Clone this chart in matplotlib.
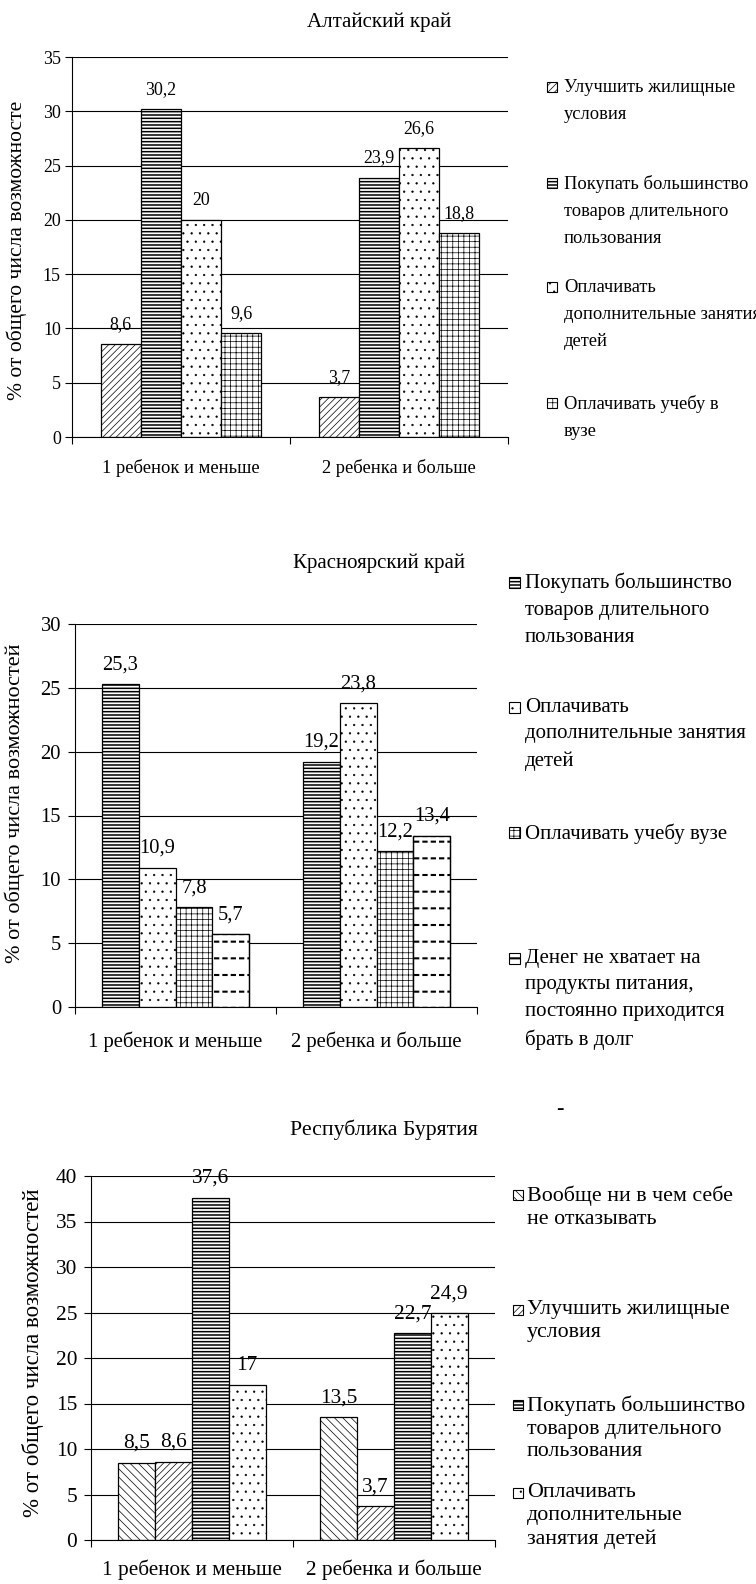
import numpy as np
import matplotlib
matplotlib.use('Agg')
import matplotlib.pyplot as plt
from matplotlib.patches import Rectangle

plt.rc('font', family='Liberation Serif')

W, H = 756, 1584

cats = ['1 ребенок и меньше', '2 ребенка и больше']

# Алтайский край
alt_house = [8.6, 3.7]
alt_goods = [30.2, 23.9]
alt_extra = [20, 26.6]
alt_univ = [9.6, 18.8]

# Красноярский край
kr_goods = [25.3, 19.2]
kr_extra = [10.9, 23.8]
kr_univ = [7.8, 12.2]
kr_debt = [5.7, 13.4]

# Республика Бурятия
bur_none = [8.5, 13.5]
bur_house = [8.6, 3.7]
bur_goods = [37.6, 22.7]
bur_extra = [17, 24.9]

lab_house = 'Улучшить жилищные\nусловия'
lab_goods = 'Покупать большинство\nтоваров длительного\nпользования'
lab_extra = 'Оплачивать\nдополнительные занятия\nдетей'
lab_univ = 'Оплачивать учебу в\nвузе'
lab_univ2 = 'Оплачивать учебу вузе'
lab_debt = 'Денег не хватает на\nпродукты питания,\nпостоянно приходится\nбрать в долг'
lab_none = 'Вообще ни в чем себе\nне отказывать'
lab_extra3 = 'Оплачивать\nдополнительные\nзанятия детей'

# hatch, hatch linewidth
styles = {
    'house': ('/////', 0.5),
    'goods': ('-----', 1.1),
    'extra': ('..', 0.4),
    'univ': ('+++', 0.5),
    'none': ('\\\\\\\\', 0.5),
    'debt': ('-', 1.5),
}

fig = plt.figure(figsize=(W / 100, H / 100), dpi=100)


def fx(x):
    return x / W


def fy(y):
    return 1 - y / H


def make_bars(ax, series, kinds, width, fs):
    x = np.arange(len(cats))
    n = len(series)
    for i, (vals, kind) in enumerate(zip(series, kinds)):
        pos = x + (i - (n - 1) / 2) * width
        hatch, hlw = styles[kind]
        with plt.rc_context({'hatch.linewidth': hlw}):
            ax.bar(pos, vals, width, color='white', edgecolor='black',
                   lw=0.9, hatch=hatch, zorder=2)
        if kind == 'debt':
            # white vertical cuts turn the lines into dashes
            with plt.rc_context({'hatch.linewidth': 2.2}):
                ax.bar(pos, vals, width, color='none', edgecolor='white',
                       lw=0, hatch='||', zorder=3)
            ax.bar(pos, vals, width, color='none', edgecolor='black',
                   lw=0.9, zorder=4)
        for xi, v in zip(pos, vals):
            ax.annotate(f'{v:g}'.replace('.', ','), (xi, v), xytext=(0, 14),
                        textcoords='offset points', ha='center', va='center',
                        fontsize=fs)


def setup(ax, top, fs, xfs, xpad, ypad):
    ax.set_xlim(-0.5, 1.5)
    ax.set_ylim(0, top)
    ax.set_yticks(np.arange(0, top + 1, 5))
    ax.set_xticks([-0.5, 0.5, 1.5])
    ax.set_xticklabels([])
    ax.set_xticks([0, 1], minor=True)
    ax.set_xticklabels(cats, minor=True, fontsize=xfs)
    ax.tick_params(axis='x', which='minor', length=0, pad=xpad)
    ax.tick_params(axis='both', which='major', direction='out', length=5,
                   width=0.8, labelsize=fs, pad=ypad)
    ax.grid(axis='y', color='black', lw=0.8)
    ax.set_axisbelow(True)
    for s in ['top', 'right']:
        ax.spines[s].set_visible(False)
    for s in ['left', 'bottom']:
        ax.spines[s].set_linewidth(0.8)


def legend(labels, kinds, x_box, x_text, ys, fs, ls, box):
    em = fs * 100 / 72
    for lab, kind, y in zip(labels, kinds, ys):
        hatch, hlw = styles[kind]
        with plt.rc_context({'hatch.linewidth': hlw}):
            r = Rectangle((fx(x_box), fy(y + box / 2)), box / W, box / H,
                          transform=fig.transFigure, facecolor='white',
                          edgecolor='black', lw=0.8, hatch=hatch)
        fig.add_artist(r)
        fig.text(fx(x_text), fy(y - 0.45 * em), lab, fontsize=fs,
                 linespacing=ls, ha='left', va='top')


# Алтайский край
ax1 = fig.add_axes([fx(72), fy(437), 436 / W, 380 / H])
make_bars(ax1, [alt_house, alt_goods, alt_extra, alt_univ],
          ['house', 'goods', 'extra', 'univ'], 0.184, 12.9)
setup(ax1, 35, 12.9, 13.3, 16, 3)
ax1.set_ylabel('% от общего числа возможносте', fontsize=15.5, va='center')
ax1.yaxis.set_label_coords((17 - 72) / 436, (437 - 250) / 380)
fig.text(fx(379), fy(22), 'Алтайский край', fontsize=15.1, ha='center', va='center')
legend([lab_house, lab_goods, lab_extra, lab_univ], ['house', 'goods', 'extra', 'univ'],
       547, 564, [87, 183, 287, 403], 13.3, 1.78, 10)

# Красноярский край
ax2 = fig.add_axes([fx(75), fy(1007), 402 / W, 383 / H])
make_bars(ax2, [kr_goods, kr_extra, kr_univ, kr_debt],
          ['goods', 'extra', 'univ', 'debt'], 0.184, 14.8)
setup(ax2, 30, 14.8, 14.9, 18, 5)
ax2.set_ylabel('% от общего числа возможностей', fontsize=16, va='center')
ax2.yaxis.set_label_coords((15 - 75) / 402, (1007 - 803) / 383)
fig.text(fx(379), fy(563), 'Красноярский край', fontsize=15, ha='center', va='center')
legend([lab_goods, lab_extra, lab_univ2, lab_debt], ['goods', 'extra', 'univ', 'debt'],
       509, 525, [582, 707, 833, 958], 15, 1.55, 11)

# Республика Бурятия
ax3 = fig.add_axes([fx(91), fy(1540), 404 / W, 364 / H])
make_bars(ax3, [bur_none, bur_house, bur_goods, bur_extra],
          ['none', 'house', 'goods', 'extra'], 0.182, 15.4)
setup(ax3, 40, 15.4, 15.3, 14, 5)
ax3.set_ylabel('% от общего числа возможностей', fontsize=16.5, va='center')
ax3.yaxis.set_label_coords((33 - 91) / 404, (1540 - 1353) / 364)
fig.text(fx(384), fy(1130), 'Республика Бурятия', fontsize=15.7, ha='center', va='center')
fig.text(fx(560), fy(1110), '-', fontsize=15.8, ha='center', va='center')
legend([lab_none, lab_house, lab_goods, lab_extra3], ['none', 'house', 'goods', 'extra'],
       513, 527, [1195, 1310, 1405, 1493], 15.8, 1.28, 10)

fig.savefig('out.png', dpi=100)
